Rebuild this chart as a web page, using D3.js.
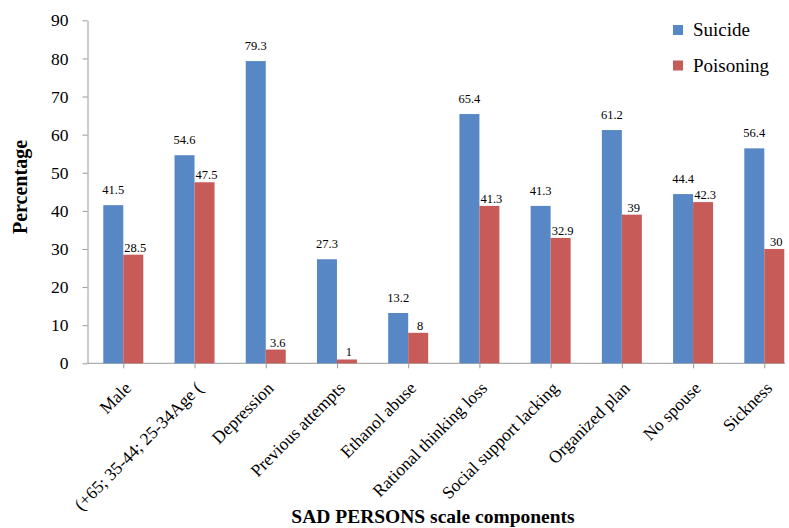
<!DOCTYPE html>
<html><head><meta charset="utf-8">
<script src="https://cdn.jsdelivr.net/npm/d3@7"></script>
<style>body{margin:0;background:#fff}svg{display:block}</style>
</head><body>
<svg id="chart" width="789" height="528"></svg>
<script>
const categories = ["Male","(+65; 35-44; 25-34Age (","Depression","Previous attempts","Ethanol abuse","Rational thinking loss","Social support lacking","Organized plan","No spouse","Sickness"];
const suicide = [41.5,54.6,79.3,27.3,13.2,65.4,41.3,61.2,44.4,56.4];
const poisoning = [28.5,47.5,3.6,1,8,41.3,32.9,39,42.3,30];
const seriesNames = ["Suicide","Poisoning"];
const yTicks = [0,10,20,30,40,50,60,70,80,90];
const colors = ["#5787C4","#C75B58"];

const svg = d3.select("#chart");
const serif = "'Liberation Serif','Times New Roman',serif";
const axisX0 = 87.5, axisX1 = 785, y0 = 363.3, y90 = 20.3;

const x = d3.scalePoint().domain(categories).range([123.3, 764.3]);
const y = d3.scaleLinear().domain([0,90]).range([y0, y90]);
const barW = 20;

// y axis
const yAxis = svg.append("g").attr("transform",`translate(${axisX0},0)`)
  .call(d3.axisLeft(y).tickValues(yTicks).tickSize(5).tickPadding(14).tickSizeOuter(0));
yAxis.select(".domain").attr("stroke","#999");
yAxis.selectAll(".tick line").attr("stroke","#999");
yAxis.selectAll("text").attr("font-family",serif).attr("font-size",17.5).attr("fill","#000");

// x axis
const xAxis = svg.append("g").attr("transform",`translate(0,${y0})`)
  .call(d3.axisBottom(x).tickSize(5).tickFormat(""));
xAxis.select(".domain").remove();
xAxis.selectAll(".tick line").attr("stroke","#999");
svg.append("line").attr("x1",axisX0).attr("x2",axisX1).attr("y1",y0).attr("y2",y0).attr("stroke","#999");

// bars
const data = categories.map((c,i)=>({c, v:[suicide[i],poisoning[i]]}));
[0,1].forEach(s=>{
  svg.append("g").selectAll("rect").data(data).join("rect")
    .attr("x",d=>x(d.c) + (s===0?-barW:0))
    .attr("y",d=>y(d.v[s]))
    .attr("width",barW)
    .attr("height",d=>y0 - y(d.v[s]))
    .attr("fill",colors[s]);
  svg.append("g").selectAll("text").data(data).join("text")
    .attr("x",d=>x(d.c) + (s===0?-barW/2:barW/2+2))
    .attr("y",d=>y(d.v[s]) - (s===0?11:3))
    .attr("text-anchor","middle")
    .attr("font-family",serif).attr("font-size",12.5).attr("fill","#000")
    .text(d=>d.v[s]);
});

// x tick labels
svg.append("g").selectAll("text").data(categories).join("text")
  .attr("transform",d=>`translate(${x(d)+9},${y0+26}) rotate(-45)`)
  .attr("text-anchor","end")
  .attr("font-family",serif).attr("font-size",17.5).attr("fill","#000")
  .text(d=>d);

// axis titles
svg.append("text").attr("x",433).attr("y",523).attr("text-anchor","middle")
  .attr("font-family",serif).attr("font-weight","bold").attr("font-size",19.5)
  .text("SAD PERSONS scale components");
svg.append("text").attr("transform","translate(27,187) rotate(-90)").attr("text-anchor","middle")
  .attr("font-family",serif).attr("font-weight","bold").attr("font-size",20)
  .text("Percentage");

// legend
const leg = svg.append("g");
seriesNames.forEach((n,i)=>{
  leg.append("rect").attr("x",673).attr("y",25+i*35.5).attr("width",10).attr("height",10).attr("fill",colors[i]);
  leg.append("text").attr("x",693).attr("y",36+i*35.5).attr("font-family",serif).attr("font-size",19).text(n);
});
</script>
</body></html>
